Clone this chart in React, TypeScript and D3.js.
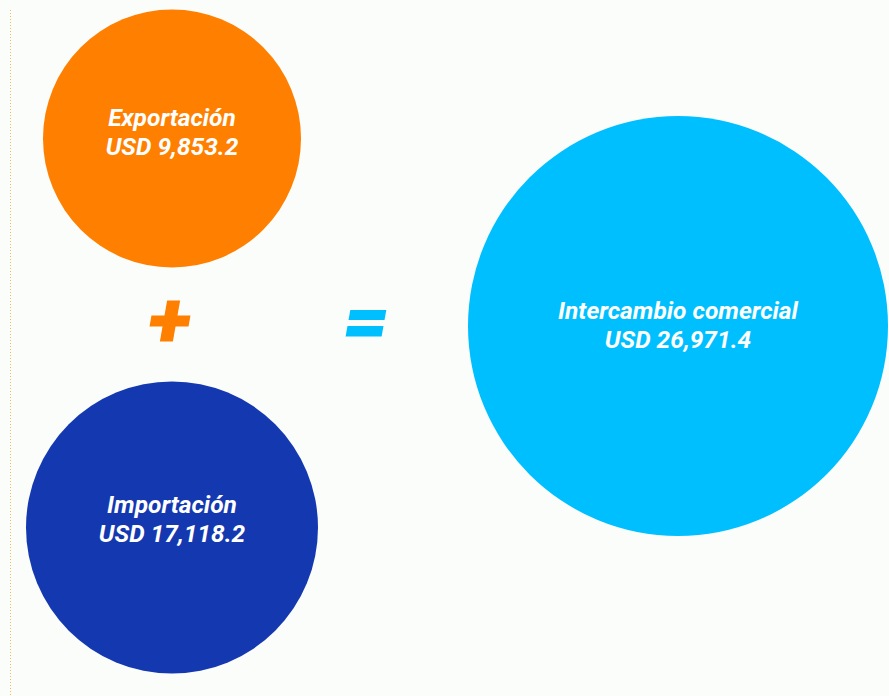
import React from "react";
import * as d3 from "d3";

const categories = ["Exportación", "Importación", "Intercambio comercial"];
const values = [9853.2, 17118.2, 26971.4];
const currency = "USD";

const W = 889;
const H = 696;

// layout (positions / sizes / styles)
const layout = [
  { cx: 172, cy: 138.5, r: 129, color: "#FF7F00", dy: [-13, 16] },
  { cx: 172, cy: 527.5, r: 146, color: "#1438B0", dy: [-15, 14] },
  { cx: 678, cy: 326, r: 210, color: "#00BFFF", dy: [-7, 22] },
];

const fmt = d3.format(",.1f");

export default function App() {
  return (
    <svg
      width={W}
      height={H}
      style={{ position: "absolute", left: 0, top: 0, display: "block" }}
      fontFamily="Roboto, 'Noto Sans', sans-serif"
    >
      <rect x={0} y={0} width={W} height={H} fill="#FBFDFB" />
      <line x1={10.5} x2={10.5} y1={10} y2={H} stroke="#F7B955" strokeWidth={1} strokeDasharray="1,2" />
      {categories.map((c, i) => {
        const l = layout[i];
        return (
          <g key={c}>
            <circle cx={l.cx} cy={l.cy} r={l.r} fill={l.color} />
            <text
              x={l.cx}
              y={l.cy + l.dy[0]}
              textAnchor="middle"
              fill="#fff"
              fontSize={24.5}
              fontWeight="bold"
              fontStyle="italic"
            >
              {c}
            </text>
            <text
              x={l.cx}
              y={l.cy + l.dy[1]}
              textAnchor="middle"
              fill="#fff"
              fontSize={24.5}
              fontWeight="bold"
              fontStyle="italic"
            >
              {`${currency} ${fmt(values[i])}`}
            </text>
          </g>
        );
      })}
      {/* plus sign */}
      <g transform="translate(170,321) skewX(-10)">
        <rect x={-19.5} y={-5.5} width={39} height={11} fill="#FF7F00" />
        <rect x={-6.5} y={-20.5} width={13} height={41} fill="#FF7F00" />
      </g>
      {/* equals sign */}
      <g transform="translate(366,323) skewX(-10)">
        <rect x={-18} y={-13} width={36} height={10} fill="#00BFFF" />
        <rect x={-18} y={3} width={36} height={10.5} fill="#00BFFF" />
      </g>
    </svg>
  );
}
